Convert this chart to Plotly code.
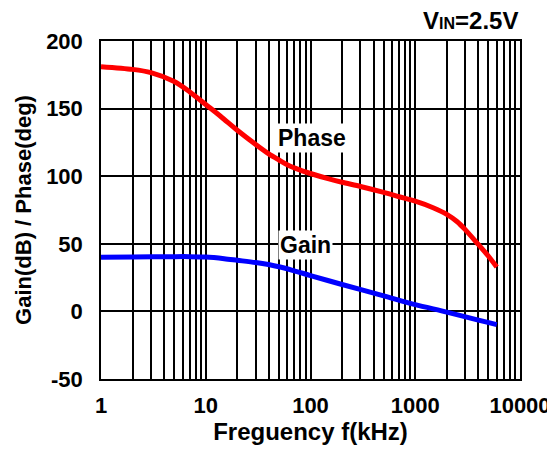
import plotly.graph_objects as go

freq_phase = [1, 2, 3, 5, 7, 10, 14, 20, 30, 40, 50, 60, 80, 100, 150, 200, 300, 500, 700, 1000, 1500, 2000, 2500, 3000, 4000, 5000, 6000]
phase = [181, 179, 176.6, 170, 162.5, 153, 144, 134, 123.5, 116.5, 112, 108.5, 104.5, 102, 98, 95.5, 92.4, 88, 84.8, 81.5, 76.5, 71.8, 66.5, 60.5, 49.5, 40.8, 32.8]

freq_gain = [1, 2, 5, 7, 10, 15, 20, 30, 50, 70, 100, 200, 500, 1000, 2000, 4000, 6000]
gain = [40, 40.3, 40.5, 40.5, 40.2, 39, 37.8, 36.1, 33, 30, 26.5, 19.9, 11.5, 5, -0.5, -6.5, -9.8]

x_ticks = [1, 10, 100, 1000, 10000]
y_ticks = [-50, 0, 50, 100, 150, 200]

FONT = "Liberation Sans, Arial, sans-serif"

fig = go.Figure()
fig.add_trace(go.Scatter(x=freq_phase, y=phase, mode="lines",
                         line=dict(color="#ff0000", width=5, shape="spline", smoothing=0.8), showlegend=False))
fig.add_trace(go.Scatter(x=freq_gain, y=gain, mode="lines",
                         line=dict(color="#0000ff", width=5, shape="spline", smoothing=0.8), showlegend=False))

fig.add_annotation(x=2.013, y=128.5, xref="x", yref="y", text="<b>Phase</b>", showarrow=False,
                   bgcolor="white", font=dict(family=FONT, size=23, color="black"))
fig.add_annotation(x=1.953, y=49, xref="x", yref="y", text="<b>Gain</b>", showarrow=False,
                   bgcolor="white", font=dict(family=FONT, size=23, color="black"))
fig.add_annotation(x=1, y=1.062, xref="paper", yref="paper", xanchor="right", yanchor="middle",
                   text="<b>V<span style='font-size:16px'>IN</span>=2.5V</b>", showarrow=False,
                   font=dict(family=FONT, size=24, color="black"))

fig.update_layout(
    width=547, height=449,
    margin=dict(l=93, r=35, t=33, b=78),
    paper_bgcolor="white", plot_bgcolor="white",
    font=dict(family=FONT, color="black"),
)
fig.update_xaxes(
    type="log", range=[0, 4], tickvals=x_ticks, ticktext=[f"<b>{v}</b>" for v in x_ticks],
    tickfont=dict(size=22), showgrid=True, gridcolor="black", gridwidth=1.5,
    minor=dict(showgrid=True, gridcolor="black", gridwidth=1.5, dtick="D1"),
    showline=True, linecolor="black", linewidth=1.5, mirror=True, ticks="",
    ticklabelstandoff=6, automargin=False,
    title=dict(text="<b>Freguency f(kHz)</b>", font=dict(size=24), standoff=6),
)
fig.update_yaxes(
    range=[-50, 200], tickvals=y_ticks, ticktext=[f"<b>{v}</b>" for v in y_ticks],
    tickfont=dict(size=22), showgrid=True, gridcolor="black", gridwidth=1.5,
    showline=True, linecolor="black", linewidth=1.5, mirror=True, ticks="", zeroline=False,
    ticklabelstandoff=12, automargin=False,
    title=dict(text="<b>Gain(dB) / Phase(deg)</b>", font=dict(size=22), standoff=8),
)

fig.write_html("out.html")
